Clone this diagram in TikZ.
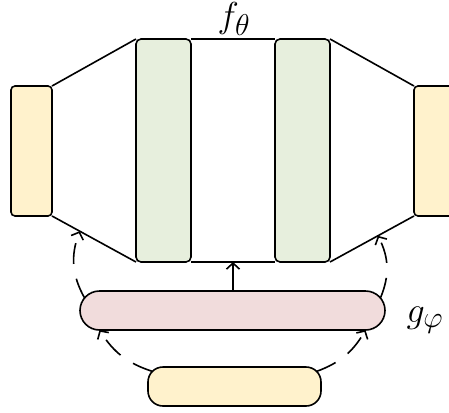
\documentclass[tikz,border=0pt]{standalone}
\usetikzlibrary{calc,arrows.meta}
\definecolor{inout}{HTML}{FFF2CC}
\definecolor{layer}{HTML}{E7EFDD}
\definecolor{latent}{HTML}{F1DCDC}
\begin{document}
\begin{tikzpicture}[x=1pt,y=1pt,line width=1.6pt,
  blk/.style={draw,inner sep=0pt,outer sep=0pt,anchor=north west},
  tip/.style={-{Straight Barb[length=6pt,width=13pt,line width=1.6pt]}},
  flow/.style={tip,dash pattern=on 21pt off 15pt},
  lbl/.style={font=\Huge,scale=1.45,inner sep=0pt}]
\useasboundingbox (0,0) rectangle (449,-412);
% input, hidden layers, output
\node[blk,fill=inout,rounded corners=4pt,minimum width=41pt,minimum height=130pt] (lin) at (11,-86) {};
\node[blk,fill=layer,rounded corners=5pt,minimum width=55pt,minimum height=223pt] (h1) at (136,-39) {};
\node[blk,fill=layer,rounded corners=5pt,minimum width=55pt,minimum height=223pt] (h2) at (275,-39) {};
\node[blk,fill=inout,rounded corners=4pt,minimum width=41pt,minimum height=130pt] (rout) at (414,-86) {};
% hypernetwork and its input
\node[blk,fill=latent,rounded corners=19.5pt,minimum width=305pt,minimum height=39pt] (g) at (80,-291) {};
\node[blk,fill=inout,rounded corners=15pt,minimum width=173pt,minimum height=39pt] (z) at (148,-367) {};
% outline of the main network
\draw (lin.north east) -- (h1.north west);
\draw (lin.south east) -- coordinate[pos=0.33] (tl) (h1.south west);
\draw (h1.north east) -- (h2.north west);
\draw (h1.south east) -- coordinate[pos=0.5] (mid) (h2.south west);
\draw (h2.north east) -- (rout.north west);
\draw (h2.south east) -- coordinate[pos=0.57] (tr) (rout.south west);
% weights generated by g
\draw[tip] (mid |- g.north) -- (mid);
% dashed feeds
\coordinate (gul) at ($(g.north west)+(19.5,-19.5)+(140:19.5)$);
\coordinate (gur) at ($(g.north east)+(-19.5,-19.5)+(40:19.5)$);
\coordinate (gbl) at ($(g.south west)+(19.5,0)$);
\coordinate (gbr) at ($(g.south east)+(-19.5,0)$);
\coordinate (zl) at ($(z.north west)+(15,-15)+(135:15)$);
\coordinate (zr) at ($(z.north east)+(-15,-15)+(45:15)$);
\draw[flow] (gul) to[bend left=25] (tl);
\draw[flow] (gur) to[bend right=25] (tr);
\draw[flow] (zl) to[bend left=20] (gbl);
\draw[flow] (zr) to[bend right=20] (gbr);
% labels
\node[lbl] (ft) at (234,-19) {$f_\theta$};
\node[lbl] (gp) at (425,-320) {$g_\varphi$};
\end{tikzpicture}
\end{document}
